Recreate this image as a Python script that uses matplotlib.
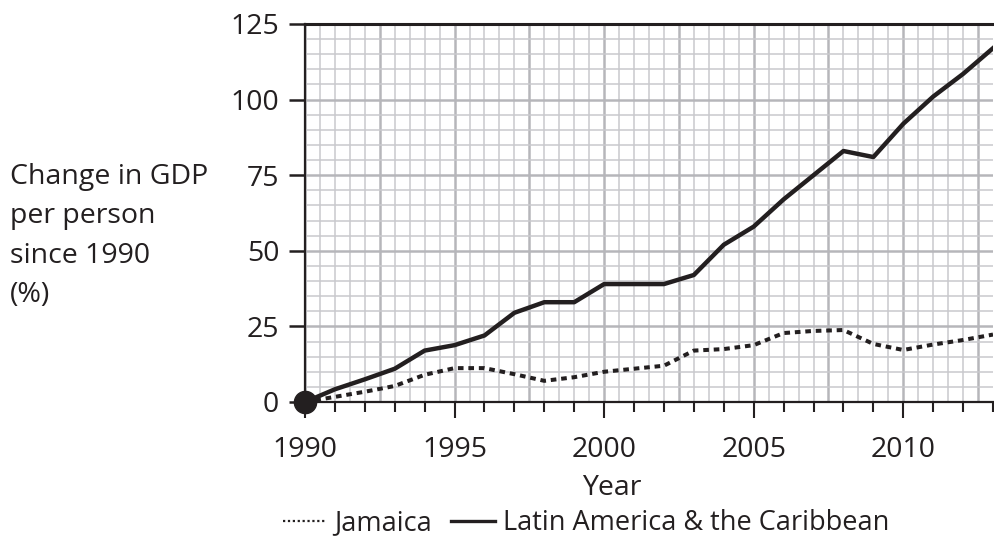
import matplotlib
matplotlib.use("Agg")
import matplotlib.pyplot as plt
from matplotlib.lines import Line2D
import numpy as np

plt.rcParams['font.family'] = ['Open Sans', 'DejaVu Sans']

years = np.arange(1990, 2014)
latin = [0, 4.2, 7.5, 11, 17, 18.8, 22, 29.5, 33, 33, 39, 39, 39, 42, 52, 58,
         67, 75, 83, 81, 92, 101, 108.5, 117]
jamaica = [0, 1.7, 3.4, 5.3, 9, 11.2, 11.2, 9.2, 7, 8.2, 10, 11, 12, 17, 17.5,
           18.8, 22.8, 23.5, 23.8, 19.2, 17.2, 19, 20.5, 22.3]
xticks = [1990, 1995, 2000, 2005, 2010]
yticks = [0, 25, 50, 75, 100, 125]

ink = '#231f20'
fs = 20.5
fig = plt.figure(figsize=(9.94, 5.41), dpi=100)
ax = fig.add_axes([305 / 994, 1 - 402 / 541, 688 / 994, 378 / 541])
ax.set_xlim(1990, 2012.72)
ax.set_ylim(0, 125)

# graph paper
for x in np.arange(1990, 2013, 0.5):
    major = (x - 1990) % 2.5 == 0
    ax.axvline(x, color='#b6b6ba' if major else '#c9c9cd', lw=1.8 if major else 1.1, zorder=0)
for y in np.arange(0, 126, 5):
    major = y % 25 == 0
    ax.axhline(y, color='#b6b6ba' if major else '#c9c9cd', lw=1.8 if major else 1.1, zorder=0)

ax.plot(years, jamaica, color=ink, lw=2.9, linestyle=(0, (1.4, 1.2)), zorder=3)
ax.plot(years, latin, color=ink, lw=3.2, zorder=3)
ax.plot([years[0]], [latin[0]], 'o', color=ink, ms=16, clip_on=False, zorder=5)

ax.spines['right'].set_visible(False)
ax.spines['top'].set_linewidth(2.2)
ax.spines['left'].set_linewidth(1.6)
ax.spines['bottom'].set_linewidth(1.6)
for s in ['top', 'left', 'bottom']:
    ax.spines[s].set_color(ink)

ax.set_xticks(xticks)
ax.set_xticks(years, minor=True)
ax.set_yticks(yticks)
ax.tick_params(axis='x', which='major', length=11.5, width=1.5, color=ink, pad=13,
               labelsize=fs, labelcolor=ink)
ax.tick_params(axis='x', which='minor', length=7, width=1.5, color=ink)
ax.tick_params(axis='y', which='major', length=11.5, width=1.8, color=ink, pad=7,
               labelsize=fs, labelcolor=ink)

fig.text(10 / 994, 1 - 236 / 541, 'Change in GDP\nper person\nsince 1990\n(%)',
         ha='left', va='center', fontsize=fs, color=ink, linespacing=1.55)
fig.text(612 / 994, 1 - 495 / 541, 'Year', ha='center', va='baseline',
         fontsize=fs, color=ink)

handles = [Line2D([], [], color=ink, lw=1.6, linestyle=(0, (1, 1.2))),
           Line2D([], [], color=ink, lw=2.4)]
labels = ['Jamaica', 'Latin America & the Caribbean']
fig.legend(handles, labels, loc='center', bbox_to_anchor=(586 / 994, 1 - 523 / 541),
           ncol=2, frameon=False, fontsize=19.5, handlelength=1.6, columnspacing=0.7,
           handletextpad=0.3, labelcolor=ink, borderpad=0, borderaxespad=0)

fig.savefig('out.png', dpi=100)
